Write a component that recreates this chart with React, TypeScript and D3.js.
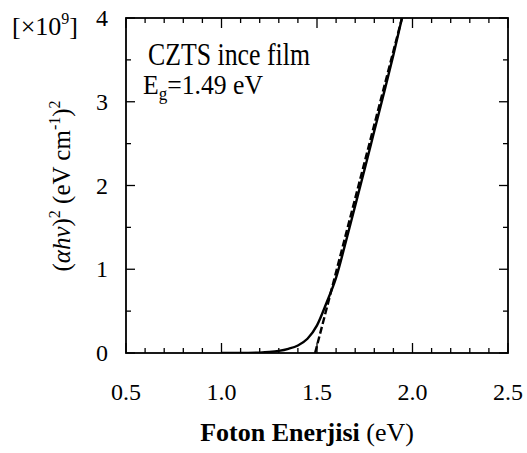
import React from "react";
import * as d3 from "d3";

// measured absorption curve, (alpha h nu)^2 in units of 1e9
const energy = [1.0, 1.1, 1.2, 1.25, 1.3, 1.35, 1.4, 1.45, 1.5, 1.55, 1.6, 1.65, 1.7, 1.75, 1.8, 1.85, 1.9, 1.945];
const absorb = [0, 0, 0.005, 0.012, 0.025, 0.05, 0.09, 0.17, 0.33, 0.6, 0.9, 1.32, 1.76, 2.2, 2.65, 3.1, 3.56, 4.0];

// linear extrapolation (Tauc fit)
const fitEnergy = [1.49, 1.945];
const fitAbsorb = [0, 4.0];

const xTicks = [0.5, 1.0, 1.5, 2.0, 2.5];
const yTicks = [0, 1, 2, 3, 4];

const W = 527;
const H = 453;
const M = { left: 126, right: 508, top: 18, bottom: 353 };
const serif = "'Liberation Serif', 'Times New Roman', serif";

export default function App() {
  const x = d3.scaleLinear().domain([0.5, 2.5]).range([M.left, M.right]);
  const y = d3.scaleLinear().domain([0, 4]).range([M.bottom, M.top]);

  const line = d3
    .line<[number, number]>()
    .x((d) => x(d[0]))
    .y((d) => y(d[1]))
    .curve(d3.curveMonotoneX);

  const curve = energy.map((e, i) => [e, absorb[i]] as [number, number]);
  const fit = fitEnergy.map((e, i) => [e, fitAbsorb[i]] as [number, number]);

  const xMinor = d3.range(5, 26).map((v) => v / 10);
  const yMinor = d3.range(0, 9).map((v) => v / 2);

  return (
    <svg
      width={W}
      height={H}
      style={{ position: "absolute", left: 0, top: 0, background: "#fff" }}
      fontFamily={serif}
    >
      <defs>
        <clipPath id="plot">
          <rect x={M.left} y={M.top} width={M.right - M.left} height={M.bottom - M.top} />
        </clipPath>
      </defs>

      {/* ticks on all four sides, pointing inward */}
      <g stroke="#000" strokeWidth={1.3}>
        {xMinor.map((v, i) => {
          const len = i % 5 === 0 ? 10 : 5;
          return (
            <g key={"x" + i}>
              <line x1={x(v)} x2={x(v)} y1={M.bottom} y2={M.bottom - len} />
              <line x1={x(v)} x2={x(v)} y1={M.top} y2={M.top + len} />
            </g>
          );
        })}
        {yMinor.map((v, i) => {
          const len = i % 2 === 0 ? 9 : 5;
          return (
            <g key={"y" + i}>
              <line x1={M.left} x2={M.left + len} y1={y(v)} y2={y(v)} />
              <line x1={M.right} x2={M.right - len} y1={y(v)} y2={y(v)} />
            </g>
          );
        })}
      </g>

      <rect
        x={M.left}
        y={M.top}
        width={M.right - M.left}
        height={M.bottom - M.top}
        fill="none"
        stroke="#000"
        strokeWidth={1.8}
      />

      <g clipPath="url(#plot)" fill="none" stroke="#000">
        <path d={line(fit) ?? ""} strokeWidth={2.4} strokeDasharray="7,3" />
        <path d={line(curve) ?? ""} strokeWidth={2.4} />
      </g>

      {/* tick labels */}
      <g fontSize={24} fill="#000">
        {xTicks.map((t) => (
          <text key={t} x={x(t)} y={400} textAnchor="middle">
            {d3.format(".1f")(t)}
          </text>
        ))}
        {yTicks.map((t) => (
          <text key={t} x={108} y={y(t) + 8} textAnchor="end">
            {t}
          </text>
        ))}
      </g>

      <text x={12} y={35} fontSize={26}>
        [×10<tspan dy={-11} fontSize={16}>9</tspan>
        <tspan dy={11}>]</tspan>
      </text>

      <text x={148} y={65} fontSize={31} textLength={162} lengthAdjust="spacingAndGlyphs">
        CZTS ince film
      </text>
      <text x={143} y={94} fontSize={27} textLength={120} lengthAdjust="spacingAndGlyphs">
        E<tspan dy={6} fontSize={18}>g</tspan>
        <tspan dy={-6}>=1.49 eV</tspan>
      </text>

      <text x={307} y={441} fontSize={26} textAnchor="middle">
        <tspan fontWeight="bold">Foton Enerjisi</tspan>
        <tspan> (eV)</tspan>
      </text>

      <text
        transform="translate(70,186) rotate(-90)"
        fontSize={25}
        textAnchor="middle"
      >
        (<tspan fontStyle="italic">αhν</tspan>)<tspan dy={-10} fontSize={16}>2</tspan>
        <tspan dy={10}> (eV cm</tspan>
        <tspan dy={-10} fontSize={16}>-1</tspan>
        <tspan dy={10}>)</tspan>
        <tspan dy={-10} fontSize={16}>2</tspan>
      </text>
    </svg>
  );
}
